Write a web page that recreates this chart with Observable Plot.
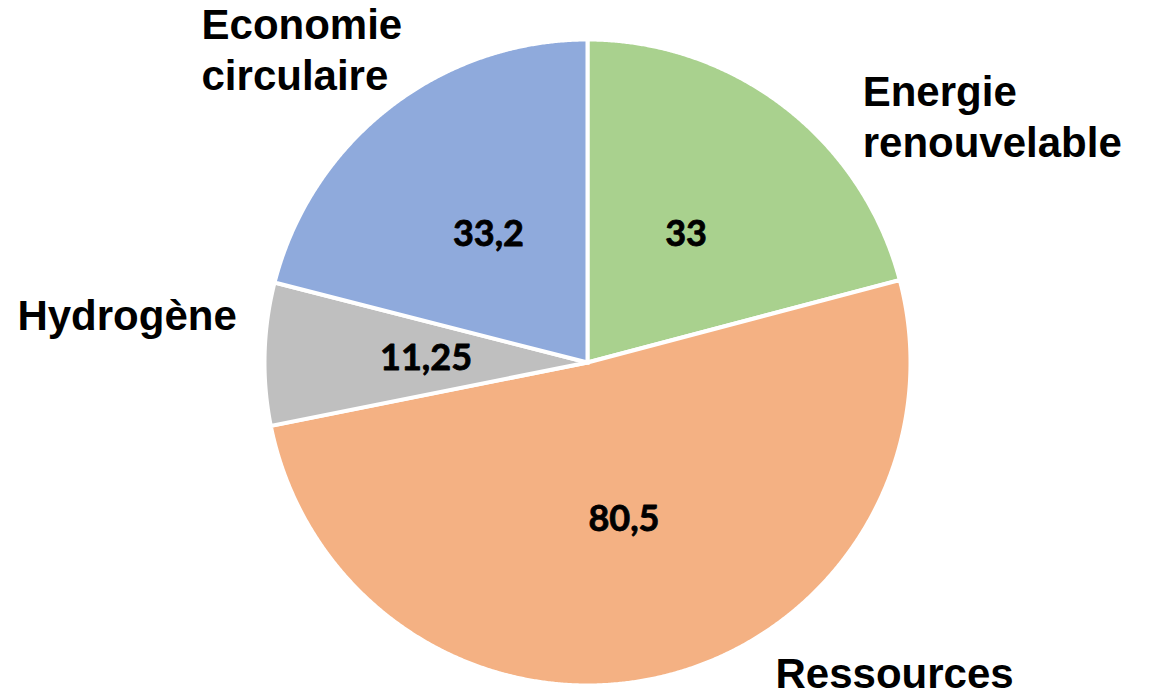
<!DOCTYPE html>
<html>
<head>
<meta charset="utf-8">
<script src="https://cdn.jsdelivr.net/npm/d3@7"></script>
<script src="https://cdn.jsdelivr.net/npm/@observablehq/plot@0.6"></script>
<style>
  html, body { margin: 0; padding: 0; background: #ffffff; }
  #chart { width: 1150px; height: 699px; overflow: hidden; }
</style>
</head>
<body>
<div id="chart"></div>
<script>
// Répartition par thématique
const categories = ["Energie renouvelable", "Ressources", "Hydrogène", "Economie circulaire"];
const values = [33, 80.5, 11.25, 33.2];
const labelLines = ["Energie\nrenouvelable", "Ressources", "Hydrogène", "Economie\ncirculaire"];
const colors = ["#A9D18E", "#F4B183", "#BFBFBF", "#8FAADC"];

// Layout: pie centre and radius in pixels, category label anchors in radius units
const W = 1150, H = 699;
const CX = 587, CY = 362, R = 323;
const labelAnchor = {
  "Energie renouvelable": [0.852, 0.765],
  "Ressources": [0.582, -0.958],
  "Hydrogène": [-1.765, 0.152],
  "Economie circulaire": [-1.195, 0.972]
};

const rows = categories.map((name, i) => ({name, value: values[i], label: labelLines[i]}));
const arcs = d3.pie().sort(null).value(d => d.value)(rows);

// Slice outlines: centre, then points along the arc (angle 0 at 12 o'clock, clockwise)
const outline = arcs.flatMap(a => {
  const n = Math.max(2, Math.ceil((a.endAngle - a.startAngle) / (Math.PI / 720)));
  const pts = [{name: a.data.name, x: 0, y: 0}];
  for (let k = 0; k <= n; ++k) {
    const t = a.startAngle + (a.endAngle - a.startAngle) * k / n;
    pts.push({name: a.data.name, x: Math.sin(t), y: Math.cos(t)});
  }
  return pts;
});

const mid = a => (a.startAngle + a.endAngle) / 2;
const fmt = v => String(v).replace(".", ",");

const chart = Plot.plot({
  width: W,
  height: H,
  margin: 0,
  x: {domain: [-CX / R, (W - CX) / R], axis: null},
  y: {domain: [(CY - H) / R, CY / R], axis: null},
  color: {domain: categories, range: colors},
  style: {background: "#ffffff", overflow: "hidden"},
  marks: [
    Plot.line(outline, {
      x: "x", y: "y", z: "name", fill: "name",
      stroke: "#ffffff", strokeWidth: 4, strokeLinejoin: "miter", strokeMiterlimit: 2,
      curve: "linear-closed"
    }),
    Plot.text(arcs, {
      x: a => 0.5 * Math.sin(mid(a)),
      y: a => 0.5 * Math.cos(mid(a)),
      text: a => fmt(a.data.value),
      fontSize: 36, fontWeight: "bold", fontFamily: "Lato, 'Open Sans', sans-serif",
      fill: "#000000", stroke: "#000000", strokeWidth: 0.8
    }),
    Plot.text(rows, {
      x: d => labelAnchor[d.name][0],
      y: d => labelAnchor[d.name][1],
      text: "label",
      textAnchor: "start", lineAnchor: "middle", lineHeight: 1.2,
      fontSize: 42, fontWeight: "bold", fontFamily: "'Liberation Sans', Arial, sans-serif",
      fill: "#000000"
    })
  ]
});

document.getElementById("chart").append(chart);
</script>
</body>
</html>
